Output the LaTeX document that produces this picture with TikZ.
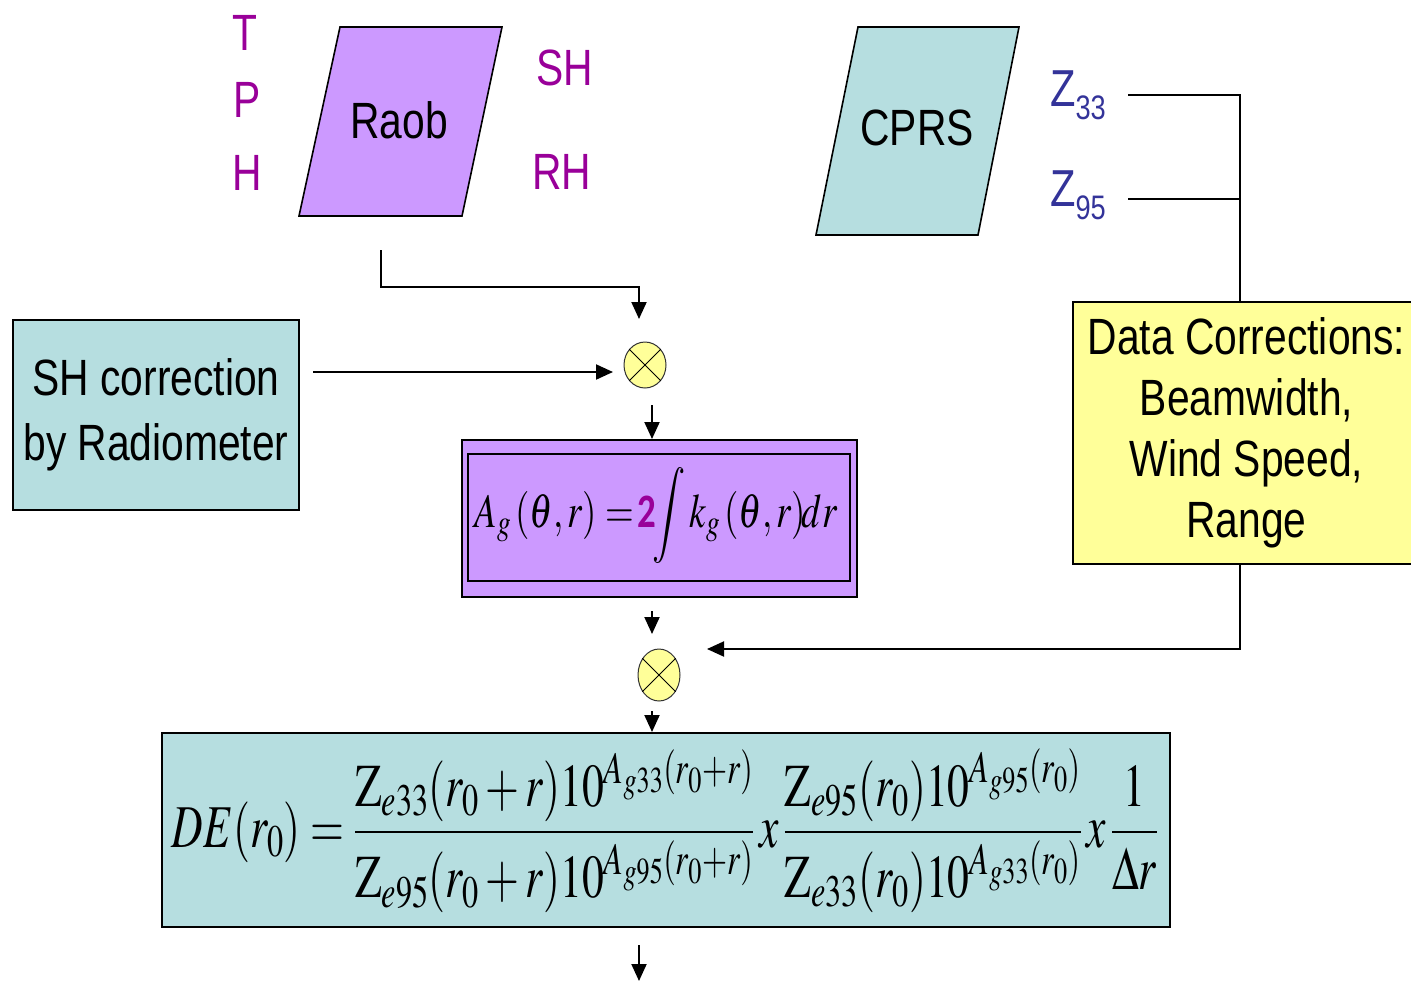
\documentclass[tikz,border=0pt]{standalone}
\usepackage{mathptmx}
\usepackage[no-math]{fontspec}
\usepackage{graphicx}
\setmainfont{Liberation Sans}
\newfontfamily\nsans[FakeStretch=0.8]{Liberation Sans}
\newfontfamily\carlito{Carlito}
\usetikzlibrary{shapes.geometric,arrows.meta,calc}
\definecolor{lav}{HTML}{CC99FF}
\definecolor{lblue}{HTML}{B6DEE0}
\definecolor{lyel}{HTML}{FFFF99}
\definecolor{purp}{HTML}{990099}
\definecolor{zblue}{HTML}{333399}
\begin{document}
\begin{tikzpicture}[x=1pt,y=-1pt,
  conn/.style={draw=black,line width=2pt},
  arr/.style={conn,-{Triangle[width=15pt,length=17pt]}},
  boxed/.style={draw=black,line width=2pt},
  bigtxt/.style={font=\nsans\fontsize{51}{61}\selectfont},
  lbl/.style={bigtxt,text=purp,inner sep=0pt},
  ztxt/.style={font=\nsans\fontsize{52}{52}\selectfont,text=zblue,inner sep=0pt},
  mult/.style={ellipse,draw=black!80,line width=1pt,fill=lyel,inner sep=0pt,minimum width=42pt},
  para/.style={boxed,line width=1.6pt}]
\useasboundingbox (0,0) rectangle (1411,983);

% Raob
\filldraw[para,fill=lav] (299,216) -- (340,27) -- (502,27) -- (462,216) -- cycle;
\node[bigtxt,inner sep=0pt] (raob) at (399,120) {Raob};
\node[lbl] (lT) at (245,33) {T};
\node[lbl] (lP) at (247,100) {P};
\node[lbl] (lH) at (247,173) {H};
\node[lbl] (lSH) at (565,68) {SH};
\node[lbl] (lRH) at (562,172) {RH};

% CPRS
\filldraw[para,fill=lblue] (816,235) -- (858,27) -- (1019,27) -- (978,235) -- cycle;
\node[bigtxt,inner sep=0pt] (cprs) at (917,128) {CPRS};
\node[ztxt,anchor=base west] (z33) at (1050,106) {Z\raisebox{-13pt}{\fontsize{34}{34}\selectfont 33}};
\node[ztxt,anchor=base west] (z95) at (1050,206) {Z\raisebox{-13pt}{\fontsize{34}{34}\selectfont 95}};

% Data corrections
\node[boxed,fill=lyel,minimum width=347pt,minimum height=262pt,inner sep=0pt,
      align=center,font=\nsans\fontsize{51}{61}\selectfont] (dc) at (1246.5,433)
      {Data Corrections:\\Beamwidth,\\Wind Speed,\\Range};
\coordinate (z33e) at (1128,95);
\coordinate (z95e) at (1128,199);
\coordinate (jn) at (1240,95);
\coordinate (jm) at (1240,199);
\coordinate (jb) at (1240,649);
\draw[conn] (z33e) -- (jn) -- (jn |- dc.north);
\draw[conn] (z95e) -- (jm);

% SH correction
\node[boxed,fill=lblue,minimum width=286pt,minimum height=190pt,inner sep=0pt,
      align=center,font=\nsans\fontsize{51}{65}\selectfont] (sh) at (156,415)
      {SH correction\\by Radiometer};

% multipliers
\node[mult,minimum height=46pt] (x1) at (645,365) {};
\draw[line width=1pt] (x1.135) -- (x1.-45) (x1.45) -- (x1.-135);
\node[mult,minimum height=52pt] (x2) at (659,675) {};
\draw[line width=1pt] (x2.135) -- (x2.-45) (x2.45) -- (x2.-135);

% Ag box
\node[boxed,fill=lav,minimum width=395pt,minimum height=157pt,inner sep=0pt] (ag) at (659.5,518.5) {};
\draw[line width=1.6pt] ($(ag.north west)+(7,15)$) rectangle ($(ag.south east)+(-8,-17)$);
\node[inner sep=0pt] (agf) at (656,515) {\resizebox*{363pt}{96pt}{\fontsize{50}{50}\selectfont
  $\displaystyle A_g\,(\theta,r)=\!\mbox{\carlito\bfseries\color{purp}2}\!\!\int k_g\,(\theta,r)\!dr$}};

% DE box
\node[boxed,fill=lblue,minimum width=1008pt,minimum height=194pt,inner sep=0pt] (de) at (666,830) {};
\node[inner sep=0pt] (def) at (665,831) {\resizebox*{986pt}{164pt}{\fontsize{46}{46}\selectfont
  $\displaystyle DE(r_0)=\frac{\mathrm{Z}_{e33}(r_0+r)10^{A_{g33}(r_0+r)}}{\mathrm{Z}_{e95}(r_0+r)10^{A_{g95}(r_0+r)}}\,x\,\frac{\mathrm{Z}_{e95}(r_0)10^{A_{g95}(r_0)}}{\mathrm{Z}_{e33}(r_0)10^{A_{g33}(r_0)}}\,x\,\frac{1}{\Delta r}$}};

% connectors
\coordinate (raobout) at (381,250);
\coordinate (c639) at (639,287);
\coordinate (c652) at (652,405);
\coordinate (c652b) at (652,711);
\draw[arr] (raobout) |- (c639) -- (639,319);
\draw[arr] ($(sh.east)+(13,-43)$) -- (613,372);
\draw[arr] (c652) -- (c652 |- ag.north);
\draw[arr] (652,611) -- (652,634);
\draw[arr] (c652b) -- (c652b |- de.north);
\draw[arr] (jb |- dc.south) -- (jb) -- (707,649);
\coordinate (out) at (639,981);
\draw[arr] (639,945) -- (out);
\end{tikzpicture}
\end{document}
